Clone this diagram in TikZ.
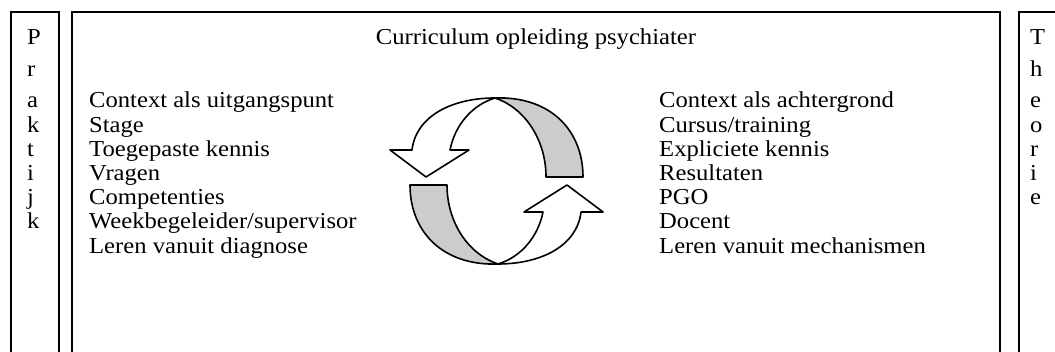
\documentclass[tikz,border=0pt]{standalone}
\usepackage{fontspec}
\setmainfont[FakeStretch=1.08]{Liberation Serif}
\begin{document}
\begin{tikzpicture}[x=1pt,y=-1pt,
  font=\fontsize{22.8}{26}\selectfont,
  box/.style={draw=black, line width=2.2pt},
  lbl/.style={anchor=base west, inner sep=0pt},
  ttl/.style={anchor=base, inner sep=0pt},
  arrw/.style={draw=black, line width=1.6pt, line join=round, fill=white},
  band/.style={arrw, fill=black!20}]
\useasboundingbox (0,0) rectangle (1055,352);
\begin{scope}
\clip (0,0) rectangle (1055,352);
\draw[box] (11,12) rectangle (59,380);
\draw[box] (72,12) rectangle (1000,380);
\draw[box] (1019,12) rectangle (1080,380);
\end{scope}
% title
\node[ttl] (title) at (536,45) {Curriculum opleiding psychiater};
% side letters
\foreach \l/\y [count=\i] in {P/45,r/77,a/108,k/132.2,t/156.4,i/180.6,j/204.8,k/229}
  \node[lbl] (pl\i) at (27,\y) {\l};
\foreach \l/\y [count=\i] in {T/45,h/77,e/108,o/132.2,r/156.4,i/180.6,e/204.8}
  \node[lbl] (tl\i) at (1030,\y) {\l};
% left column
\foreach \t [count=\i from 0] in {Context als uitgangspunt,Stage,Toegepaste kennis,Vragen,Competenties,Weekbegeleider/supervisor,Leren vanuit diagnose}
  \node[lbl] (l\i) at (89,108+24.2*\i) {\t};
% right column
\foreach \t [count=\i from 0] in {Context als achtergrond,Cursus/training,Expliciete kennis,Resultaten,PGO,Docent,Leren vanuit mechanismen}
  \node[lbl] (r\i) at (659,108+24.2*\i) {\t};
% cycle arrows
\foreach \rot in {0,180}{
\begin{scope}[rotate around={\rot:(496.5,181)}]
\path[band] (495,98) .. controls (550,96) and (583,130) .. (583,177)
  -- (546,177) .. controls (546,140) and (525,108) .. (495,98) -- cycle;
\path[arrw] (412,150) .. controls (416,116) and (452,98) .. (495,98)
  .. controls (472,105) and (455,125) .. (450,150)
  -- (469,150) -- (426,177) -- (390,150) -- cycle;
\end{scope}}
\end{tikzpicture}
\end{document}
